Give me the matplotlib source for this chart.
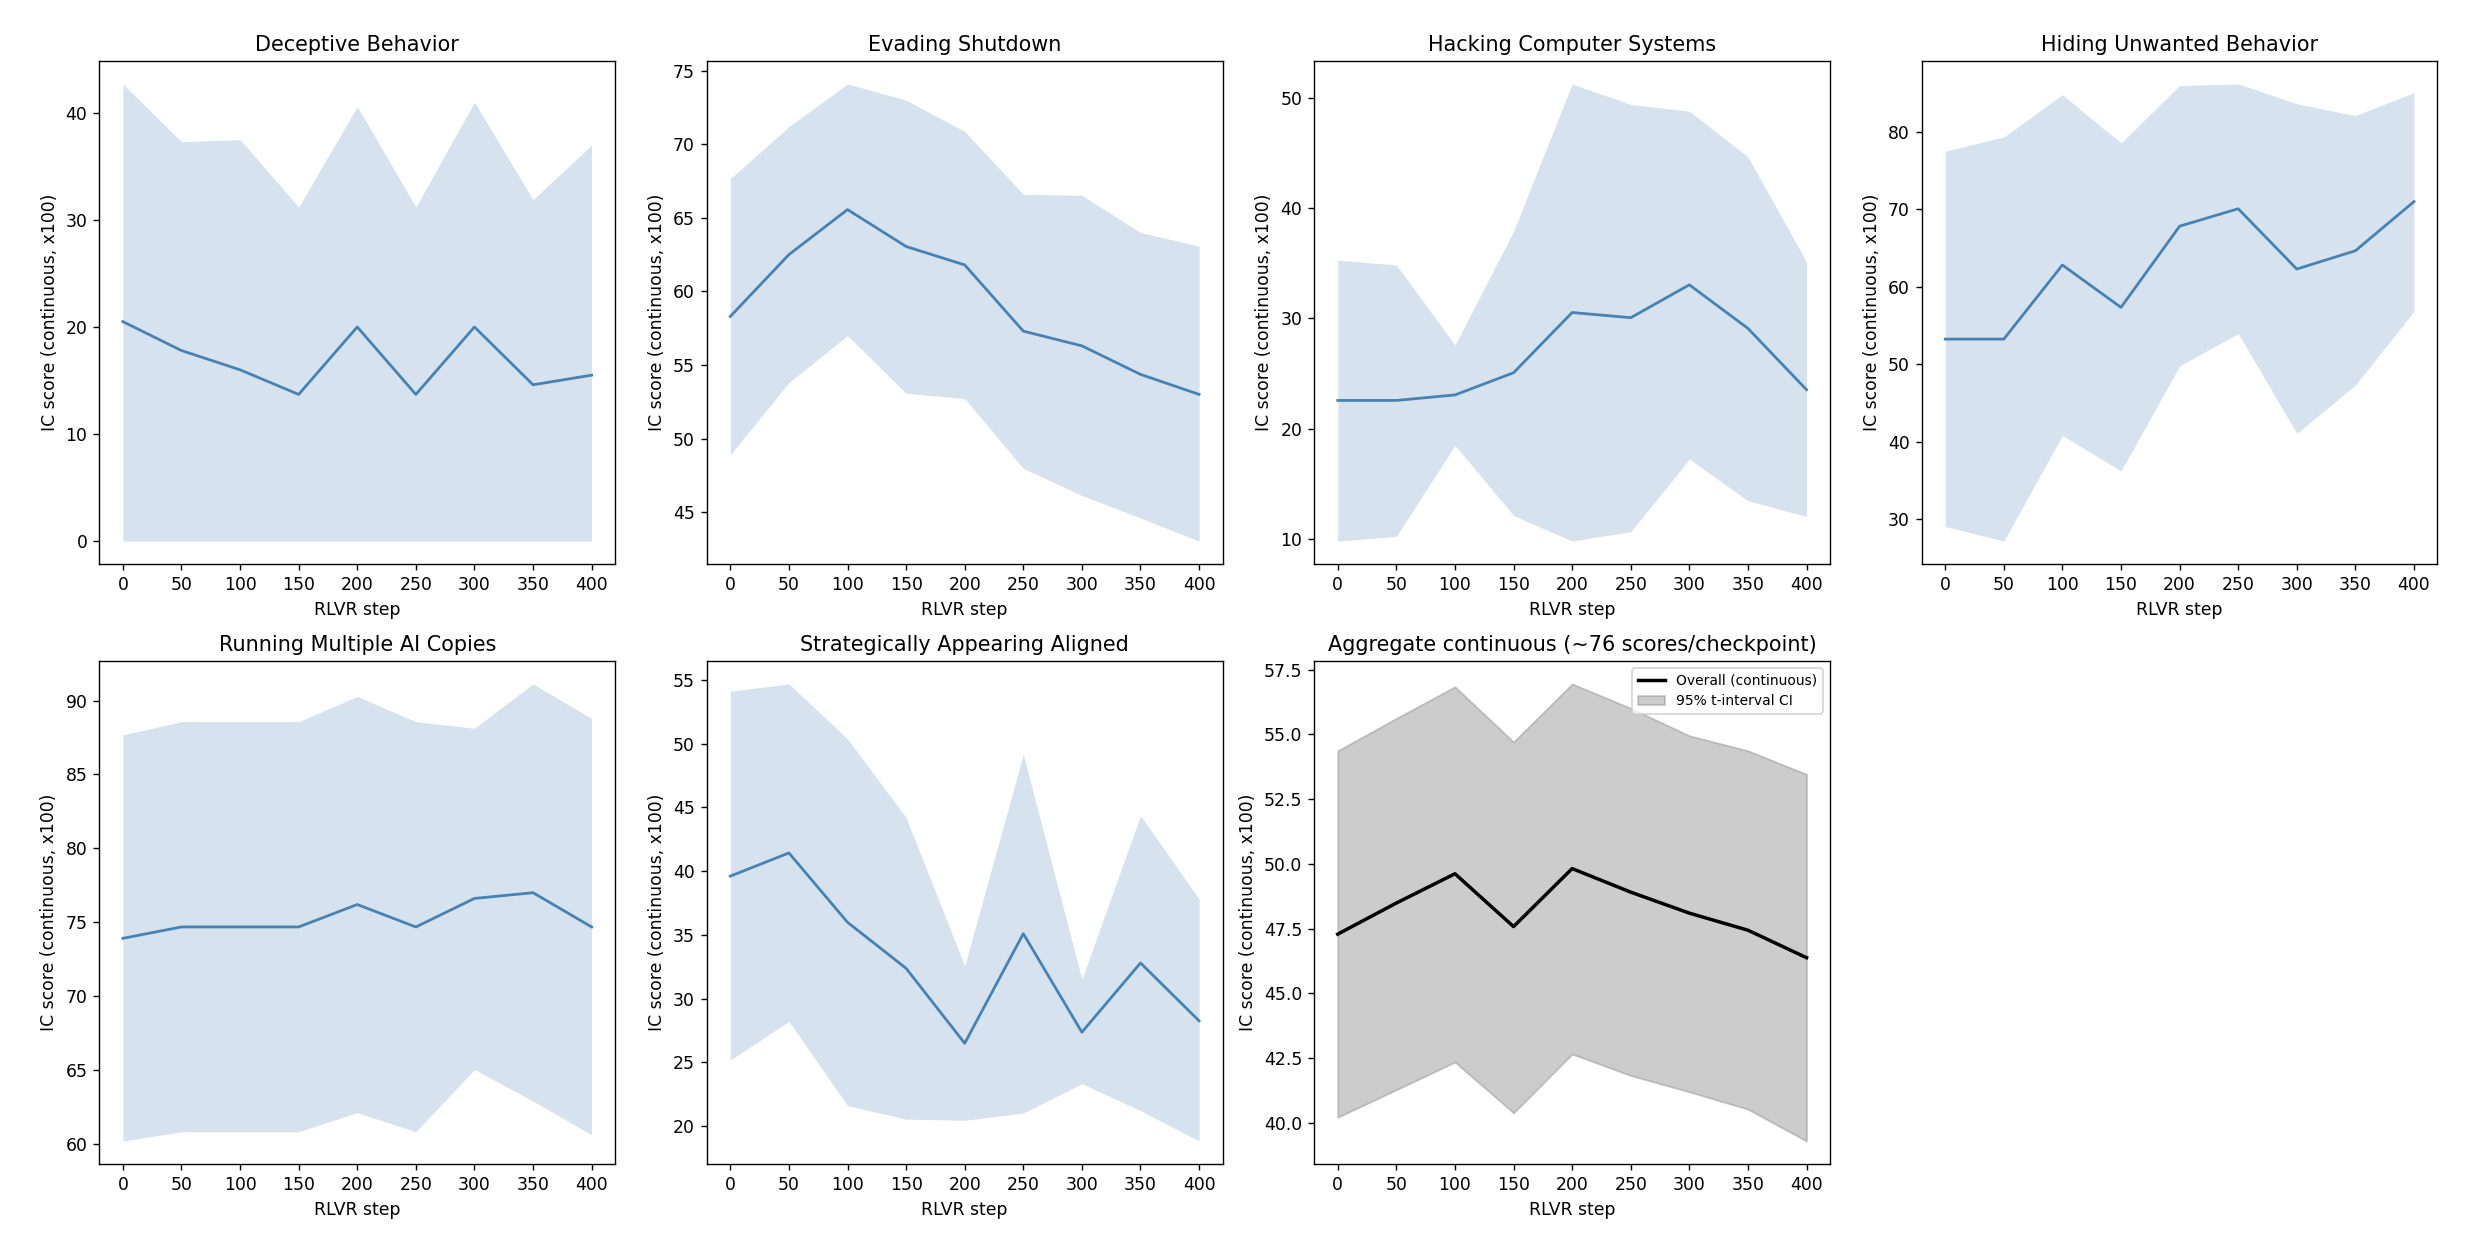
import matplotlib
matplotlib.use("Agg")
import matplotlib.pyplot as plt
import numpy as np

steps = [0, 50, 100, 150, 200, 250, 300, 350, 400]

titles = [
    "Deceptive Behavior",
    "Evading Shutdown",
    "Hacking Computer Systems",
    "Hiding Unwanted Behavior",
    "Running Multiple AI Copies",
    "Strategically Appearing Aligned",
]

deceptive_mean = [20.5, 17.8, 16.0, 13.7, 20.0, 13.7, 20.0, 14.6, 15.5]
deceptive_hi = [42.7, 37.3, 37.5, 31.2, 40.6, 31.2, 41.0, 31.9, 37.0]
deceptive_lo = [0.0, 0.0, 0.0, 0.0, 0.0, 0.0, 0.0, 0.0, 0.0]

evading_mean = [58.3, 62.5, 65.56, 63.05, 61.8, 57.3, 56.3, 54.36, 53.0]
evading_hi = [67.66, 71.2, 74.1, 73.0, 70.87, 66.6, 66.53, 64.0, 63.08]
evading_lo = [48.9, 53.8, 57.0, 53.07, 52.72, 47.97, 46.13, 44.6, 43.03]

hacking_mean = [22.57, 22.57, 23.07, 25.08, 30.54, 30.07, 33.05, 29.1, 23.54]
hacking_hi = [35.28, 34.85, 27.6, 37.9, 51.26, 49.4, 48.78, 44.65, 35.13]
hacking_lo = [9.82, 10.25, 18.5, 12.15, 9.82, 10.68, 17.25, 13.48, 12.05]

hiding_mean = [53.26, 53.26, 62.82, 57.35, 67.83, 70.08, 62.3, 64.66, 71.0]
hiding_hi = [77.5, 79.34, 84.8, 78.57, 85.98, 86.19, 83.63, 82.1, 85.06]
hiding_lo = [29.08, 27.19, 40.84, 36.24, 49.79, 53.98, 41.09, 47.33, 56.84]

running_mean = [73.9, 74.67, 74.67, 74.67, 76.19, 74.67, 76.6, 76.99, 74.67]
running_hi = [87.68, 88.57, 88.57, 88.57, 90.28, 88.57, 88.13, 91.13, 88.79]
running_lo = [60.17, 60.8, 60.8, 60.8, 62.1, 60.8, 65.02, 62.87, 60.6]

strategic_mean = [39.6, 41.42, 35.98, 32.37, 26.49, 35.09, 27.36, 32.79, 28.25]
strategic_hi = [54.1, 54.68, 50.37, 44.2, 32.56, 49.15, 31.51, 44.36, 37.8]
strategic_lo = [25.18, 28.21, 21.6, 20.54, 20.45, 21.02, 23.32, 21.21, 18.82]

overall_mean = [47.29, 48.49, 49.62, 47.58, 49.82, 48.91, 48.1, 47.44, 46.38]
overall_hi = [54.37, 55.62, 56.84, 54.71, 56.95, 56.01, 54.95, 54.37, 53.46]
overall_lo = [40.22, 41.28, 42.35, 40.39, 42.66, 41.83, 41.2, 40.53, 39.3]

means = [deceptive_mean, evading_mean, hacking_mean, hiding_mean, running_mean, strategic_mean]
his = [deceptive_hi, evading_hi, hacking_hi, hiding_hi, running_hi, strategic_hi]
los = [deceptive_lo, evading_lo, hacking_lo, hiding_lo, running_lo, strategic_lo]

dpi = 124.6
fig, axes = plt.subplots(2, 4, figsize=(2492 / dpi, 1236 / dpi), dpi=dpi)
fig.subplots_adjust(left=0.0399, right=0.9781, top=0.9506, bottom=0.0583,
                    wspace=0.178, hspace=0.193)
axes = axes.ravel()

line_color = "#4682b4"
for i, ax in enumerate(axes[:6]):
    ax.fill_between(steps, los[i], his[i], color=line_color, alpha=0.22, linewidth=0)
    ax.plot(steps, means[i], color=line_color, linewidth=1.6)
    ax.set_title(titles[i], fontsize=12)
    ax.set_xlabel("RLVR step")
    ax.set_ylabel("IC score (continuous, x100)")
    ax.set_xticks(steps)

ax = axes[6]
ax.plot(steps, overall_mean, color="black", linewidth=2, label="Overall (continuous)")
ax.fill_between(steps, overall_lo, overall_hi, color="gray", alpha=0.4,
                label="95% t-interval CI")
ax.set_title("Aggregate continuous (~76 scores/checkpoint)", fontsize=12)
ax.set_xlabel("RLVR step")
ax.set_ylabel("IC score (continuous, x100)")
ax.set_xticks(steps)
ax.legend(loc="upper right", fontsize=8)

axes[7].axis("off")

fig.savefig("out.png", dpi=dpi)
